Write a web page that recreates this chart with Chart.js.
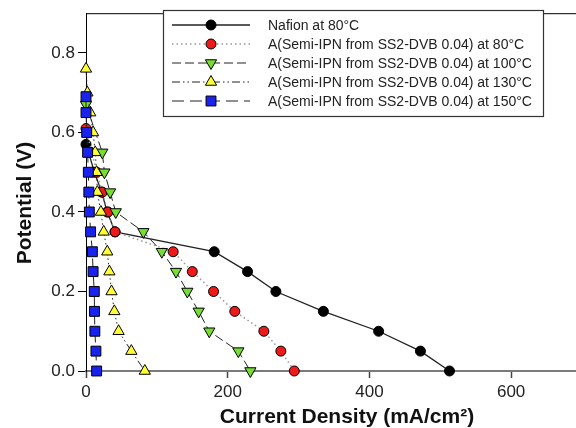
<!DOCTYPE html>
<html><head><meta charset="utf-8">
<script src="https://cdn.jsdelivr.net/npm/chart.js@4.4.0/dist/chart.umd.min.js"></script>
<style>
html,body{margin:0;padding:0;background:#fff;overflow:hidden;width:576px;height:428px}
#wrap{width:576px;height:428px;overflow:hidden;position:relative}
canvas{display:block}
</style></head>
<body><div id="wrap"><canvas id="c" width="590" height="428"></canvas></div>
<script>
// ---- data ----
const seriesLabels = [
  'Nafion at 80°C',
  'A(Semi-IPN from SS2-DVB 0.04) at 80°C',
  'A(Semi-IPN from SS2-DVB 0.04) at 100°C',
  'A(Semi-IPN from SS2-DVB 0.04) at 130°C',
  'A(Semi-IPN from SS2-DVB 0.04) at 150°C'
];
const nafionX = [0, 12, 22, 30, 41, 181, 228, 268, 335, 413, 472, 513];
const nafionY = [0.57, 0.50, 0.45, 0.40, 0.35, 0.30, 0.25, 0.20, 0.15, 0.10, 0.05, 0.00];
const ipn80X = [0, 15, 23, 31, 41, 123, 150, 180, 210, 251, 275, 294];
const ipn80Y = [0.61, 0.50, 0.45, 0.40, 0.35, 0.30, 0.25, 0.20, 0.15, 0.10, 0.05, 0.00];
const ipn100X = [0, 23, 26, 34, 42, 81, 107, 127, 143, 159, 174, 215, 232];
const ipn100Y = [0.67, 0.55, 0.50, 0.45, 0.40, 0.35, 0.30, 0.25, 0.20, 0.15, 0.10, 0.05, 0.00];
const ipn130X = [0, 2, 6, 10, 13, 15, 16, 21, 25, 30, 33, 36, 40, 46, 64, 83];
const ipn130Y = [0.76, 0.70, 0.65, 0.60, 0.55, 0.50, 0.45, 0.40, 0.35, 0.30, 0.25, 0.20, 0.15, 0.10, 0.05, 0.00];
const ipn150X = [0, 0, 1, 2.3, 3.3, 4, 4.7, 6.5, 9, 10, 11.7, 12, 12.5, 14, 15];
const ipn150Y = [0.69, 0.65, 0.60, 0.55, 0.50, 0.45, 0.40, 0.35, 0.30, 0.25, 0.20, 0.15, 0.10, 0.05, 0.00];
const xTicks = [0, 200, 400, 600];
const yTicks = [0.0, 0.2, 0.4, 0.6, 0.8];

const xTitle = 'Current Density (mA/cm²)';
const yTitle = 'Potential (V)';

function pts(xs, ys) { return xs.map((x, i) => ({x: x, y: ys[i]})); }

const FONT = '"Liberation Sans", Arial, sans-serif';

const styles = [
  {fill:'#000000', shape:'circle', r:5, rot:0, dash:[], line:'#222', lw:1.3},
  {fill:'#ee1a1a', shape:'circle', r:5, rot:0, dash:[1.5,3], line:'#999', lw:1.5},
  {fill:'#77dd33', shape:'triangle', r:6.5, rot:180, dash:[9,4], line:'#222', lw:1},
  {fill:'#ffff33', shape:'triangle', r:6.5, rot:0, dash:[8,3,1.5,3,1.5,3], line:'#222', lw:1},
  {fill:'#1a22ee', shape:'rect', r:7, rot:0, dash:[12,6], line:'#222', lw:1}
];
const seriesData = [pts(nafionX,nafionY), pts(ipn80X,ipn80Y), pts(ipn100X,ipn100Y), pts(ipn130X,ipn130Y), pts(ipn150X,ipn150Y)];

const datasets = seriesData.map((d, i) => ({
  label: seriesLabels[i],
  data: d,
  order: 5 - i,
  clip: false,
  showLine: true,
  borderColor: styles[i].line,
  borderWidth: styles[i].lw,
  borderDash: styles[i].dash,
  pointStyle: styles[i].shape,
  pointRotation: styles[i].rot,
  pointRadius: styles[i].r,
  pointBackgroundColor: styles[i].fill,
  pointBorderColor: '#000',
  pointBorderWidth: 1,
  tension: 0,
  fill: false
}));

function drawMarker(ctx, st, x, y) {
  ctx.save();
  ctx.fillStyle = st.fill; ctx.strokeStyle = '#000'; ctx.lineWidth = 1; ctx.setLineDash([]);
  ctx.beginPath();
  const r = st.r;
  if (st.shape === 'circle') {
    ctx.arc(x, y, r, 0, Math.PI*2);
  } else if (st.shape === 'rect') {
    const s = Math.SQRT1_2 * r;
    ctx.rect(x - s, y - s, 2*s, 2*s);
  } else {
    let rad = st.rot * Math.PI / 180;
    ctx.moveTo(x + Math.sin(rad)*r, y - Math.cos(rad)*r);
    rad += 2*Math.PI/3;
    ctx.lineTo(x + Math.sin(rad)*r, y - Math.cos(rad)*r);
    rad += 2*Math.PI/3;
    ctx.lineTo(x + Math.sin(rad)*r, y - Math.cos(rad)*r);
    ctx.closePath();
  }
  ctx.fill(); ctx.stroke();
  ctx.restore();
}

const decor = {
  id: 'decor',
  afterDraw(chart) {
    const ctx = chart.ctx;
    const ca = chart.chartArea;
    ctx.save();
    // top frame line
    ctx.strokeStyle = '#000'; ctx.lineWidth = 1; ctx.setLineDash([]);
    ctx.beginPath(); ctx.moveTo(ca.left, ca.top + 0.5); ctx.lineTo(chart.width, ca.top + 0.5); ctx.stroke();
    // legend
    const bx = 163.5, by = 10.5, bw = 380, bh = 106;
    ctx.fillStyle = '#fff'; ctx.fillRect(bx, by, bw, bh);
    ctx.strokeStyle = '#333'; ctx.lineWidth = 1.2; ctx.strokeRect(bx, by, bw, bh);
    ctx.font = '14px ' + FONT; ctx.textBaseline = 'middle'; ctx.textAlign = 'left';
    for (let i = 0; i < seriesLabels.length; i++) {
      const yy = 25 + 19*i;
      const st = styles[i];
      ctx.save();
      ctx.strokeStyle = st.line; ctx.lineWidth = st.lw; ctx.setLineDash(st.dash);
      ctx.beginPath(); ctx.moveTo(172, yy); ctx.lineTo(250, yy); ctx.stroke();
      ctx.restore();
      drawMarker(ctx, st, 211, yy);
      ctx.fillStyle = '#222';
      ctx.fillText(seriesLabels[i], 268, yy + 1);
    }
    // axis titles
    ctx.fillStyle = '#111';
    ctx.font = 'bold 21px ' + FONT;
    ctx.textAlign = 'center'; ctx.textBaseline = 'middle';
    ctx.fillText(xTitle, 347, 417);
    ctx.translate(25, 203); ctx.rotate(-Math.PI/2);
    ctx.fillText(yTitle, 0, 0);
    ctx.restore();
  }
};

new Chart(document.getElementById('c'), {
  type: 'scatter',
  data: { datasets: datasets },
  options: {
    responsive: false,
    animation: false,
    layout: { padding: { top: 11, right: 4, left: 0, bottom: 0 } },
    plugins: { legend: { display: false }, tooltip: { enabled: false } },
    scales: {
      x: {
        type: 'linear', min: 0, max: 700,
        afterFit(s) { s.height = 57; },
        afterBuildTicks(s) { s.ticks = xTicks.map(v => ({value: v})); },
        ticks: { font: { size: 17, family: FONT }, color: '#222', padding: 4, callback: v => String(v) },
        grid: { drawOnChartArea: false, drawTicks: true, tickLength: 7, tickColor: '#444', tickWidth: 1.5 },
        border: { color: '#7a7a7a', width: 2 }
      },
      y: {
        type: 'linear', min: 0, max: 0.9,
        afterFit(s) { s.width = 86; },
        afterBuildTicks(s) { s.ticks = yTicks.map(v => ({value: v})); },
        ticks: { font: { size: 17, family: FONT }, color: '#222', padding: 3, callback: v => Number(v).toFixed(1) },
        grid: { drawOnChartArea: false, drawTicks: true, tickLength: 8, tickColor: '#000', tickWidth: 1 },
        border: { color: '#000', width: 1 }
      }
    }
  },
  plugins: [decor]
});
</script>
</body></html>
